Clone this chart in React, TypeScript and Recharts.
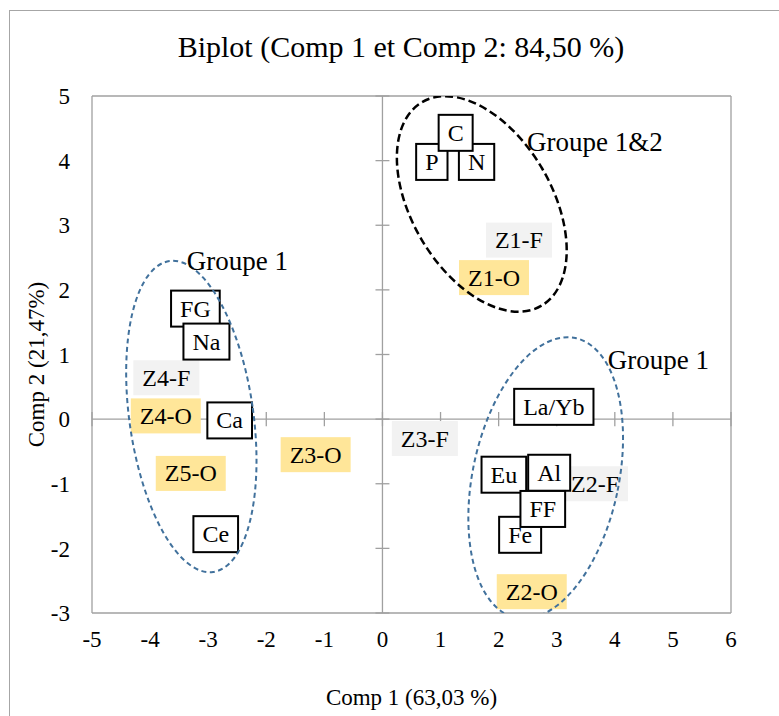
import React from 'react';
import { ScatterChart, Scatter, XAxis, YAxis, ReferenceLine, Label } from 'recharts';

const FONT = '"Liberation Serif", "Times New Roman", serif';

// variables (boxed labels)
const varNames = ['P', 'N', 'C', 'FG', 'Na', 'Ca', 'Ce', 'La/Yb', 'Al', 'Eu', 'Fe', 'FF'];
const varComp1 = [0.85, 1.62, 1.26, -3.22, -3.03, -2.63, -2.87, 2.95, 2.87, 2.09, 2.37, 2.76];
const varComp2 = [3.98, 3.98, 4.43, 1.71, 1.2, -0.02, -1.78, 0.19, -0.83, -0.86, -1.79, -1.39];

// observations (zones, F / O)
const obsNames = ['Z1-F', 'Z1-O', 'Z2-F', 'Z2-O', 'Z3-F', 'Z3-O', 'Z4-F', 'Z4-O', 'Z5-O'];
const obsComp1 = [2.35, 1.92, 3.66, 2.57, 0.73, -1.15, -3.72, -3.73, -3.3];
const obsComp2 = [2.77, 2.19, -1.0, -2.67, -0.3, -0.55, 0.64, 0.05, -0.84];

// groups
const groupNames = ['Groupe 1&2', 'Groupe 1', 'Groupe 1'];
const groupLabelX = [2.49, -3.37, 3.88];
const groupLabelY = [4.29, 2.44, 0.92];
const groupCenterX = [1.71, -3.29, 2.81];
const groupCenterY = [3.33, 0.04, -0.91];

const xTicks = [-5, -4, -3, -2, -1, 0, 1, 2, 3, 4, 5, 6];
const yTicks = [-3, -2, -1, 0, 1, 2, 3, 4, 5];

const varData = varNames.map((name, i) => ({ name, x: varComp1[i], y: varComp2[i] }));
const obsData = obsNames.map((name, i) => ({ name, x: obsComp1[i], y: obsComp2[i] }));
const groupData = groupNames.map((name, i) => ({ name, i, x: groupCenterX[i], y: groupCenterY[i] }));
const groupLabelData = groupNames.map((name, i) => ({ name, i, x: groupLabelX[i], y: groupLabelY[i] }));

const ellipseStyle = [
    { rx: 118, ry: 70, angle: 59.6, stroke: '#000', dash: '8 4', width: 2.5 },
    { rx: 62, ry: 157, angle: -8, stroke: '#41719c', dash: '5 3.5', width: 2 },
    { rx: 73, ry: 143, angle: 12, stroke: '#41719c', dash: '5 3.5', width: 2 },
];

let ctx: CanvasRenderingContext2D | null = null;
function textWidth(t: string, size: number) {
    if (!ctx) ctx = document.createElement('canvas').getContext('2d');
    if (!ctx) return t.length * size * 0.5;
    ctx.font = `${size}px "Liberation Serif"`;
    return ctx.measureText(t).width;
}

const LABEL_SIZE = 24;
const GROUP_SIZE = 27;

function VarBox(props: any) {
    const { cx, cy, payload } = props;
    const w = textWidth(payload.name, LABEL_SIZE) + 18;
    const h = 36;
    return (
        <g>
            <rect x={cx - w / 2} y={cy - h / 2} width={w} height={h} fill="#fff" stroke="#000" strokeWidth={2} />
            <text x={cx} y={cy} textAnchor="middle" dominantBaseline="central" fontFamily={FONT} fontSize={LABEL_SIZE} fill="#000">
                {payload.name}
            </text>
        </g>
    );
}

function ObsBox(props: any) {
    const { cx, cy, payload } = props;
    const w = textWidth(payload.name, LABEL_SIZE) + 18;
    const h = 35;
    const fill = payload.name.endsWith('-O') ? '#ffe699' : '#f2f2f2';
    return (
        <g>
            <rect x={cx - w / 2} y={cy - h / 2} width={w} height={h} fill={fill} />
            <text x={cx} y={cy} textAnchor="middle" dominantBaseline="central" fontFamily={FONT} fontSize={LABEL_SIZE} fill="#000">
                {payload.name}
            </text>
        </g>
    );
}

function GroupEllipse(props: any) {
    const { cx, cy, payload } = props;
    const s = ellipseStyle[payload.i];
    return (
        <ellipse
            cx={cx} cy={cy} rx={s.rx} ry={s.ry}
            transform={`rotate(${s.angle} ${cx} ${cy})`}
            fill="none" stroke={s.stroke} strokeWidth={s.width} strokeDasharray={s.dash}
        />
    );
}

function GroupLabel(props: any) {
    const { cx, cy, payload } = props;
    return (
        <text x={cx} y={cy} textAnchor="start" dominantBaseline="central" fontFamily={FONT} fontSize={GROUP_SIZE} fill="#000">
            {payload.name}
        </text>
    );
}

const AXIS_GRAY = '#a0a0a0';

export default function App() {
    return (
        <div style={{ position: 'absolute', left: 0, top: 0, width: 779, height: 716, overflow: 'hidden', background: '#fff' }}>
            <div style={{ position: 'absolute', left: 9, top: 10, width: 900, height: 900, border: '1px solid #a6a6a6' }} />
            <div style={{
                position: 'absolute', left: 0, top: 31, width: 802, textAlign: 'center',
                fontFamily: FONT, fontSize: 30, lineHeight: '32px', color: '#000',
            }}>
                Biplot (Comp 1 et Comp 2: 84,50 %)
            </div>
            <div style={{ position: 'absolute', left: 0, top: 0 }}>
                <ScatterChart width={779} height={716} margin={{ top: 96, right: 48, bottom: 0, left: 0 }}>
                    <XAxis
                        type="number" dataKey="x" domain={[-5, 6]} ticks={xTicks} allowDataOverflow
                        height={103} axisLine={false} tickLine={false} tickSize={0} tickMargin={18}
                        tick={{ fontSize: 23, fill: '#000', fontFamily: FONT }}
                    >
                        <Label content={(p: any) => {
                            const vb = p.viewBox;
                            return (
                                <text x={vb.x + vb.width / 2} y={vb.y + vb.height - 19} textAnchor="middle" dominantBaseline="central"
                                    fontFamily={FONT} fontSize={23} fill="#000">Comp 1 (63,03 %)</text>
                            );
                        }} />
                    </XAxis>
                    <YAxis
                        type="number" dataKey="y" domain={[-3, 5]} ticks={yTicks} allowDataOverflow
                        width={92} axisLine={false} tickLine={false} tickSize={0} tickMargin={22}
                        tick={{ fontSize: 23, fill: '#000', fontFamily: FONT }}
                    >
                        <Label content={(p: any) => {
                            const vb = p.viewBox;
                            const x = vb.x + 36;
                            const y = vb.y + vb.height / 2 + 10;
                            return (
                                <text x={x} y={y} textAnchor="middle" dominantBaseline="central" transform={`rotate(-90 ${x} ${y})`}
                                    fontFamily={FONT} fontSize={23} fill="#000">Comp 2 (21,47%)</text>
                            );
                        }} />
                    </YAxis>

                    {/* plot border */}
                    <ReferenceLine x={-5} stroke={AXIS_GRAY} strokeWidth={1.3} />
                    <ReferenceLine x={6} stroke={AXIS_GRAY} strokeWidth={1.3} />
                    <ReferenceLine y={5} stroke={AXIS_GRAY} strokeWidth={1.3} />
                    <ReferenceLine y={-3} stroke={AXIS_GRAY} strokeWidth={1.3} />
                    {/* axes through origin */}
                    <ReferenceLine x={0} stroke={AXIS_GRAY} strokeWidth={1.3} />
                    <ReferenceLine y={0} stroke={AXIS_GRAY} strokeWidth={1.3} />
                    {xTicks.map((t) => (
                        <ReferenceLine key={`xt${t}`} segment={[{ x: t, y: -0.11 }, { x: t, y: 0.11 }]} stroke={AXIS_GRAY} strokeWidth={1.3} />
                    ))}
                    {yTicks.map((t) => (
                        <ReferenceLine key={`yt${t}`} segment={[{ x: -0.12, y: t }, { x: 0.12, y: t }]} stroke={AXIS_GRAY} strokeWidth={1.3} />
                    ))}

                    <Scatter data={obsData} shape={ObsBox} isAnimationActive={false} />
                    <Scatter data={varData} shape={VarBox} isAnimationActive={false} />
                    <Scatter data={groupData} shape={GroupEllipse} isAnimationActive={false} />
                    <Scatter data={groupLabelData} shape={GroupLabel} isAnimationActive={false} />
                </ScatterChart>
            </div>
        </div>
    );
}
